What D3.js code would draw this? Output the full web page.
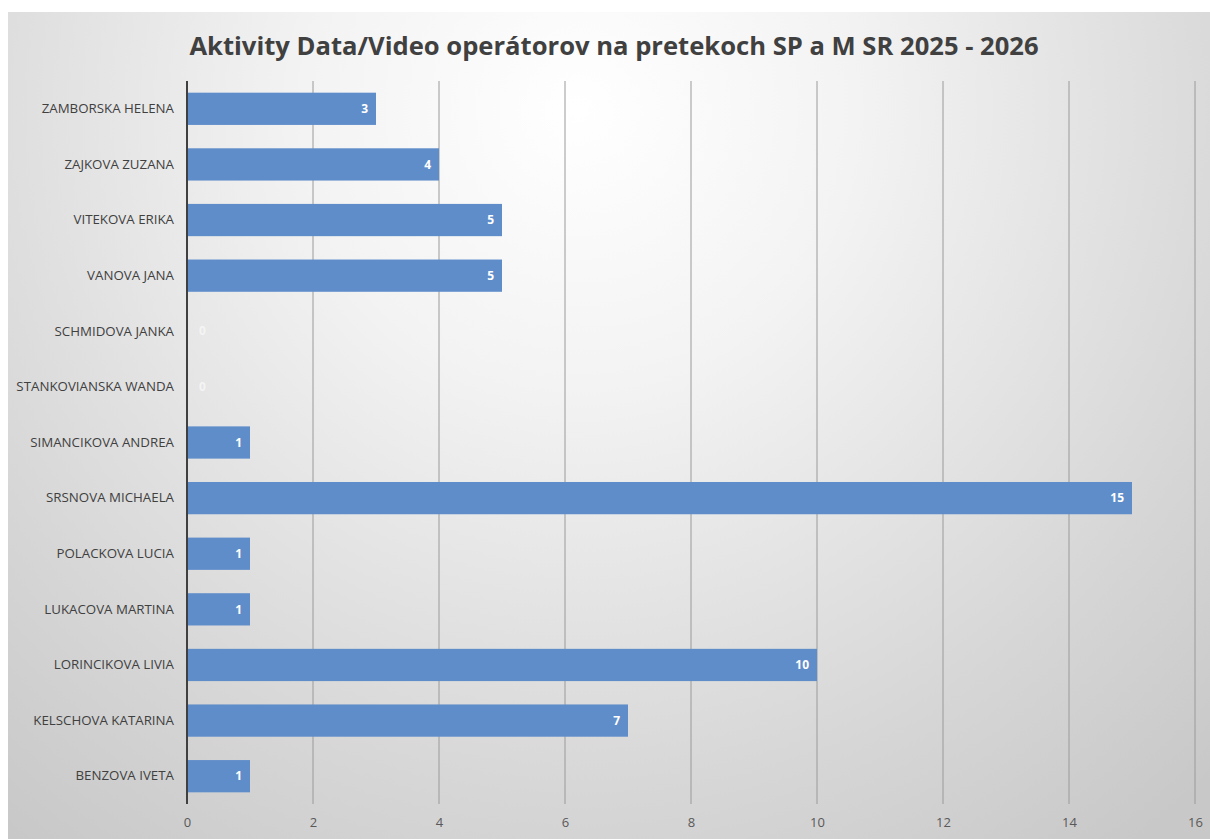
<!DOCTYPE html>
<html>
<head>
<meta charset="utf-8">
<script src="https://cdn.jsdelivr.net/npm/d3@7"></script>
<style>
  body { margin: 0; background: #fff; }
  svg { display: block; }
</style>
</head>
<body>
<div id="chart"></div>
<script>
// data
var names = ["ZAMBORSKA HELENA", "ZAJKOVA ZUZANA", "VITEKOVA ERIKA", "VANOVA JANA",
             "SCHMIDOVA JANKA", "STANKOVIANSKA WANDA", "SIMANCIKOVA ANDREA", "SRSNOVA MICHAELA",
             "POLACKOVA LUCIA", "LUKACOVA MARTINA", "LORINCIKOVA LIVIA", "KELSCHOVA KATARINA",
             "BENZOVA IVETA"];
var counts = [3, 4, 5, 5, 0, 0, 1, 15, 1, 1, 10, 7, 1];
var xTicks = [0, 2, 4, 6, 8, 10, 12, 14, 16];
var title = "Aktivity Data/Video operátorov na pretekoch SP a M SR 2025 - 2026";

var svgWidth = 1210;
var svgHeight = 839;

var margin = { top: 81, right: 15, bottom: 35, left: 187 };
var chartWidth = 1195 - margin.left;
var chartHeight = svgHeight - margin.top - margin.bottom;

var svg = d3.select("#chart")
            .append("svg")
            .attr("width", svgWidth)
            .attr("height", svgHeight);

// background gradient (light center, grey edges)
var defs = svg.append("defs");
var grad = defs.append("radialGradient")
               .attr("id", "bg")
               .attr("gradientUnits", "userSpaceOnUse")
               .attr("cx", 580).attr("cy", 110).attr("r", 920);
grad.append("stop").attr("offset", "0%").attr("stop-color", "#ffffff");
grad.append("stop").attr("offset", "30%").attr("stop-color", "#f3f3f3");
grad.append("stop").attr("offset", "75%").attr("stop-color", "#d6d6d6");
grad.append("stop").attr("offset", "100%").attr("stop-color", "#c8c8c8");

svg.append("rect")
   .attr("x", 8).attr("y", 12)
   .attr("width", svgWidth - 8).attr("height", svgHeight - 12)
   .attr("fill", "url(#bg)");

// title
svg.append("text")
   .attr("x", 614)
   .attr("y", 55)
   .attr("text-anchor", "middle")
   .attr("font-family", "'Open Sans', sans-serif")
   .attr("font-weight", "bold")
   .attr("font-size", 25.6)
   .attr("fill", "#404040")
   .text(title);

var chartGroup = svg.append("g")
                    .attr("transform", `translate(${margin.left}, ${margin.top})`);

var xScale = d3.scaleLinear()
               .domain([0, 16])
               .range([0, chartWidth]);

var yScale = d3.scaleBand()
               .domain(names)
               .range([0, chartHeight])
               .paddingInner(0.42)
               .paddingOuter(0.21);

// grid lines
chartGroup.selectAll(".grid")
          .data(xTicks.filter(d => d > 0))
          .enter()
          .append("line")
          .attr("x1", d => xScale(d))
          .attr("x2", d => xScale(d))
          .attr("y1", 0)
          .attr("y2", chartHeight)
          .attr("stroke", "#9a9a9a")
          .attr("stroke-width", 1);

// x axis labels
var xAxis = d3.axisBottom(xScale).tickValues(xTicks).tickSize(0).tickPadding(14);
var xg = chartGroup.append("g")
                   .attr("transform", `translate(0, ${chartHeight})`)
                   .call(xAxis);
xg.select(".domain").remove();
xg.selectAll("text")
  .attr("font-family", "'Open Sans', sans-serif")
  .attr("font-size", 13)
  .attr("fill", "#595959");

// y axis labels
var yAxis = d3.axisLeft(yScale).tickSize(0).tickPadding(13);
var yg = chartGroup.append("g").call(yAxis);
yg.select(".domain").remove();
yg.selectAll("text")
  .attr("font-family", "'Open Sans', sans-serif")
  .attr("font-size", 13.3)
  .attr("fill", "#404040");

// bars
chartGroup.selectAll(".bar")
          .data(counts)
          .enter()
          .append("rect")
          .classed("bar", true)
          .attr("x", 0)
          .attr("y", (d, i) => yScale(names[i]))
          .attr("width", d => xScale(d))
          .attr("height", yScale.bandwidth())
          .attr("fill", "#5f8dc9");

// bar labels
chartGroup.selectAll(".label")
          .data(counts)
          .enter()
          .append("text")
          .attr("x", d => d > 0 ? xScale(d) - 8 : 12)
          .attr("y", (d, i) => yScale(names[i]) + yScale.bandwidth() / 2)
          .attr("dy", "0.35em")
          .attr("text-anchor", d => d > 0 ? "end" : "start")
          .attr("font-family", "'Open Sans', sans-serif")
          .attr("font-weight", "bold")
          .attr("font-size", 12)
          .attr("fill", d => d > 0 ? "#ffffff" : "#f4f4f4")
          .text(d => d);

// zero axis line
chartGroup.append("line")
          .attr("x1", 0).attr("x2", 0)
          .attr("y1", 0).attr("y2", chartHeight)
          .attr("stroke", "#404040")
          .attr("stroke-width", 2);
</script>
</body>
</html>
